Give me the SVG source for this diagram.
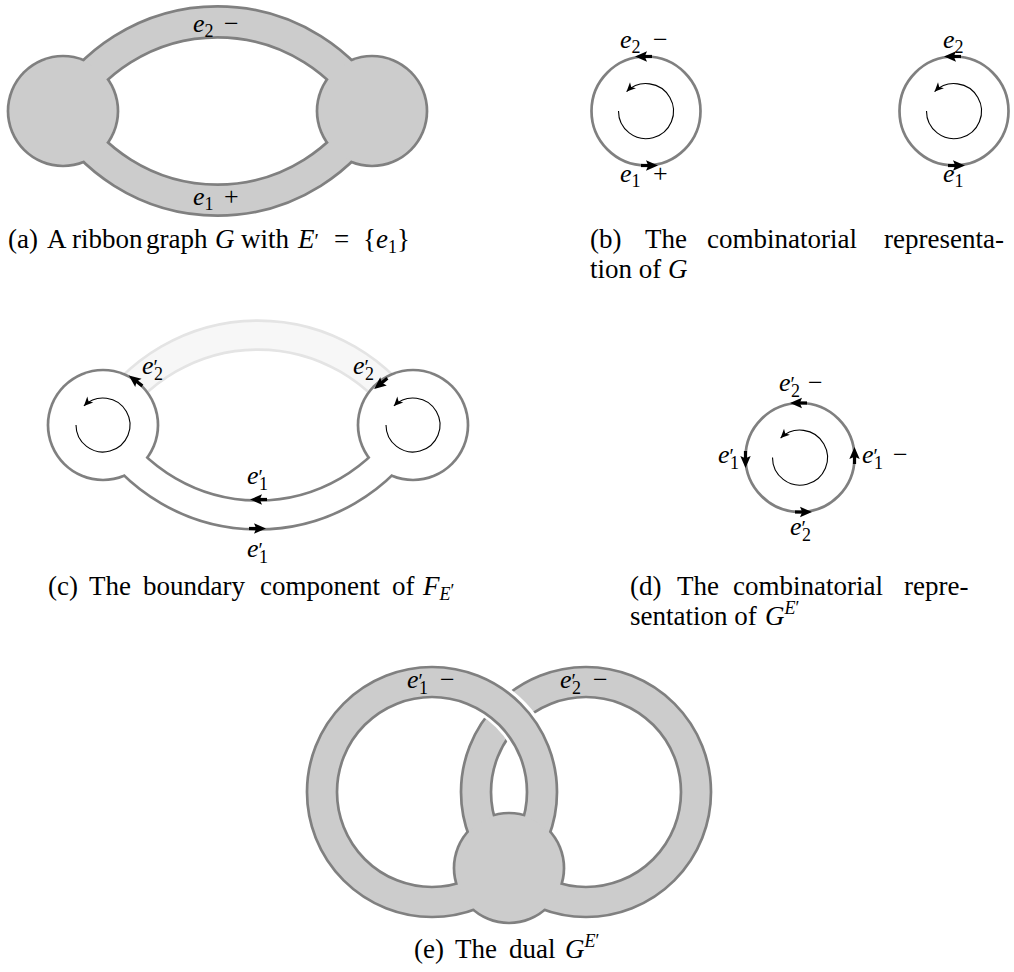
<svg xmlns="http://www.w3.org/2000/svg" width="1014" height="972" viewBox="0 0 1014 972">
<defs>
<style>
.ol{fill:none;stroke:#808080;}
.fl{fill:none;stroke:#cccccc;}
.circ{fill:none;stroke:#808080;stroke-width:2.7;}
.t{font-family:'Liberation Serif',serif;font-size:26px;fill:#000;}
.c{font-size:27px;}
.i{font-style:italic;}
.s{font-size:18px;}
.p{font-size:20px;}
.rot{fill:none;stroke:#000;stroke-width:1.1;marker-end:url(#tip);}
</style>
<marker id="tip" markerUnits="userSpaceOnUse" markerWidth="12" markerHeight="12" viewBox="-10 -6 12 12" refX="0" refY="0" orient="auto"><path d="M0,0 L-9,-4.2 L-6.5,0 L-9,4.2 Z" fill="#000"/></marker>
<g id="ah" fill="#000"><path d="M8,0 L-4,-5.2 L-1.8,0 L-4,5.2 Z"/><rect x="-9" y="-1.6" width="8" height="3.2"/></g>
</defs>
<rect width="1014" height="972" fill="#fff"/>

<!-- (a) -->
<g id="panel-a">
  <g id="a-outline">
    <path class="ol" stroke-width="33.7" d="M63,111 A178.5,178.5 0 0 1 372,111"/>
    <path class="ol" stroke-width="33.7" d="M63,111 A178.5,178.5 0 0 0 372,111"/>
    <circle cx="63" cy="111" r="56.35" fill="#808080"/>
    <circle cx="372" cy="111" r="56.35" fill="#808080"/>
  </g>
  <g id="a-fill">
    <path class="fl" stroke-width="28.3" d="M63,111 A178.5,178.5 0 0 1 372,111"/>
    <path class="fl" stroke-width="28.3" d="M63,111 A178.5,178.5 0 0 0 372,111"/>
    <circle cx="63" cy="111" r="53.65" fill="#cccccc"/>
    <circle cx="372" cy="111" r="53.65" fill="#cccccc"/>
  </g>
  <text class="t" x="193" y="32"><tspan class="i">e</tspan><tspan class="s" dy="5">2</tspan><tspan x="224" dy="-5">−</tspan></text>
  <text class="t" x="193" y="205"><tspan class="i">e</tspan><tspan class="s" dy="5">1</tspan><tspan x="224" dy="-5">+</tspan></text>
  <text class="t c" y="248"><tspan x="8">(a)</tspan><tspan x="47">A</tspan><tspan x="72">ribbon</tspan><tspan x="146">graph</tspan><tspan x="215" class="i">G</tspan><tspan x="241">with</tspan><tspan x="298" class="i">E</tspan><tspan class="p">′</tspan><tspan x="334">=</tspan><tspan x="363">{</tspan><tspan class="i">e</tspan><tspan class="s" dy="5">1</tspan><tspan dy="-5">}</tspan></text>
</g>

<!-- (b) -->
<g id="panel-b">
  <g id="b-vertex1">
    <circle class="circ" cx="646" cy="111" r="54.5"/>
    <path class="rot" d="M618.5,111 A27.5,27.5 0 1 0 626.6,91.6"/>
    <use href="#ah" transform="translate(643,56.5) rotate(180)"/>
    <use href="#ah" transform="translate(650,165.5)"/>
    <text class="t" x="620" y="48"><tspan class="i">e</tspan><tspan class="s" dy="5">2</tspan><tspan x="653" dy="-5">−</tspan></text>
    <text class="t" x="620" y="182"><tspan class="i">e</tspan><tspan class="s" dy="5">1</tspan><tspan x="653" dy="-5">+</tspan></text>
  </g>
  <g id="b-vertex2">
    <circle class="circ" cx="954" cy="111" r="54.5"/>
    <path class="rot" d="M926.5,111 A27.5,27.5 0 1 0 934.6,91.6"/>
    <use href="#ah" transform="translate(952,56.5) rotate(180)"/>
    <use href="#ah" transform="translate(957,165.5)"/>
    <text class="t" x="943" y="48"><tspan class="i">e</tspan><tspan class="s" dy="5">2</tspan></text>
    <text class="t" x="943" y="182"><tspan class="i">e</tspan><tspan class="s" dy="5">1</tspan></text>
  </g>
  <text class="t c" y="248"><tspan x="590">(b)</tspan><tspan x="645">The</tspan><tspan x="707">combinatorial</tspan><tspan x="884">representa-</tspan></text>
  <text class="t c" x="590" y="278">tion of <tspan class="i">G</tspan></text>
</g>

<!-- (c) -->
<g id="panel-c">
  <g id="c-faded-edge">
    <path fill="none" stroke="#e4e4e4" stroke-width="31.7" d="M103,425 A178.5,178.5 0 0 1 413,425"/>
    <path fill="none" stroke="#f7f7f7" stroke-width="26.3" d="M103,425 A178.5,178.5 0 0 1 413,425"/>
  </g>
  <g id="c-outline">
    <path class="ol" stroke-width="31.7" d="M103,425 A178.5,178.5 0 0 0 413,425"/>
    <circle cx="103" cy="425" r="56.35" fill="#808080"/>
    <circle cx="413" cy="425" r="56.35" fill="#808080"/>
  </g>
  <g id="c-fill">
    <path fill="none" stroke="#fff" stroke-width="26.3" d="M103,425 A178.5,178.5 0 0 0 413,425"/>
    <circle cx="103" cy="425" r="53.65" fill="#fff"/>
    <circle cx="413" cy="425" r="53.65" fill="#fff"/>
  </g>
  <path class="rot" d="M76,425 A27,27 0 1 0 83.9,405.9"/>
  <path class="rot" d="M386,425 A27,27 0 1 0 393.9,405.9"/>
  <use href="#ah" transform="translate(135.2,380.4) rotate(-142.7)"/>
  <use href="#ah" transform="translate(380.4,383.9) rotate(141)"/>
  <use href="#ah" transform="translate(258,499.5) rotate(180)"/>
  <use href="#ah" transform="translate(258,528.5)"/>
  <text class="t" x="142" y="374"><tspan class="i">e</tspan><tspan class="p">′</tspan><tspan class="s" dx="-4" dy="6">2</tspan></text>
  <text class="t" x="353" y="374"><tspan class="i">e</tspan><tspan class="p">′</tspan><tspan class="s" dx="-4" dy="6">2</tspan></text>
  <text class="t" x="247" y="484"><tspan class="i">e</tspan><tspan class="p">′</tspan><tspan class="s" dx="-4" dy="6">1</tspan></text>
  <text class="t" x="247" y="557"><tspan class="i">e</tspan><tspan class="p">′</tspan><tspan class="s" dx="-4" dy="6">1</tspan></text>
  <text class="t c" y="595"><tspan x="48">(c)</tspan><tspan x="89">The</tspan><tspan x="143">boundary</tspan><tspan x="260">component</tspan><tspan x="392">of</tspan><tspan x="423" class="i">F</tspan><tspan class="s i" dy="5">E</tspan><tspan class="s" dy="-3">′</tspan></text>
</g>

<!-- (d) -->
<g id="panel-d">
  <circle class="circ" cx="800" cy="457.5" r="54.5"/>
  <path class="rot" d="M772.5,457.5 A27.5,27.5 0 1 0 780.6,438.1"/>
  <use href="#ah" transform="translate(798,403) rotate(180)"/>
  <use href="#ah" transform="translate(745.5,460) rotate(90)"/>
  <use href="#ah" transform="translate(854.5,455) rotate(-90)"/>
  <use href="#ah" transform="translate(804,512)"/>
  <text class="t" x="779" y="391"><tspan class="i">e</tspan><tspan class="p">′</tspan><tspan class="s" dx="-4" dy="6">2</tspan><tspan x="808" dy="-6">−</tspan></text>
  <text class="t" x="718" y="463"><tspan class="i">e</tspan><tspan class="p">′</tspan><tspan class="s" dx="-4" dy="6">1</tspan></text>
  <text class="t" x="862" y="463"><tspan class="i">e</tspan><tspan class="p">′</tspan><tspan class="s" dx="-4" dy="6">1</tspan><tspan x="893" dy="-6">−</tspan></text>
  <text class="t" x="790" y="535"><tspan class="i">e</tspan><tspan class="p">′</tspan><tspan class="s" dx="-4" dy="6">2</tspan></text>
  <text class="t c" y="595"><tspan x="630">(d)</tspan><tspan x="677">The</tspan><tspan x="733">combinatorial</tspan><tspan x="904">repre-</tspan></text>
  <text class="t c" x="630" y="625">sentation of <tspan x="765" class="i">G</tspan><tspan class="s i" dy="-11">E</tspan><tspan class="s">′</tspan></text>
</g>

<!-- (e) -->
<g id="panel-e">
  <g id="e-edge2-outline"><circle class="ol" stroke-width="32.7" cx="586" cy="792" r="110"/></g>
  <g id="e-vertex-outline"><circle cx="509" cy="868" r="56.35" fill="#808080"/></g>
  <g id="e-edge2-fill"><circle class="fl" stroke-width="27.3" cx="586" cy="792" r="110"/></g>
  <g id="e-crossing-gap"><path fill="none" stroke="#fff" stroke-width="38.5" d="M487,696.7 A110,110 0 0 1 530.9,743.8"/></g>
  <g id="e-edge1">
    <circle class="ol" stroke-width="32.7" cx="432" cy="792" r="110"/>
    <circle class="fl" stroke-width="27.3" cx="432" cy="792" r="110"/>
  </g>
  <g id="e-vertex-fill"><circle cx="509" cy="868" r="53.65" fill="#cccccc"/></g>
  <text class="t" x="407" y="688"><tspan class="i">e</tspan><tspan class="p">′</tspan><tspan class="s" dx="-4" dy="6">1</tspan><tspan x="440" dy="-6">−</tspan></text>
  <text class="t" x="560" y="688"><tspan class="i">e</tspan><tspan class="p">′</tspan><tspan class="s" dx="-4" dy="6">2</tspan><tspan x="593" dy="-6">−</tspan></text>
  <text class="t c" y="958"><tspan x="414">(e)</tspan><tspan x="455">The</tspan><tspan x="509">dual</tspan><tspan x="565" class="i">G</tspan><tspan class="s i" dy="-11">E</tspan><tspan class="s">′</tspan></text>
</g>
</svg>
